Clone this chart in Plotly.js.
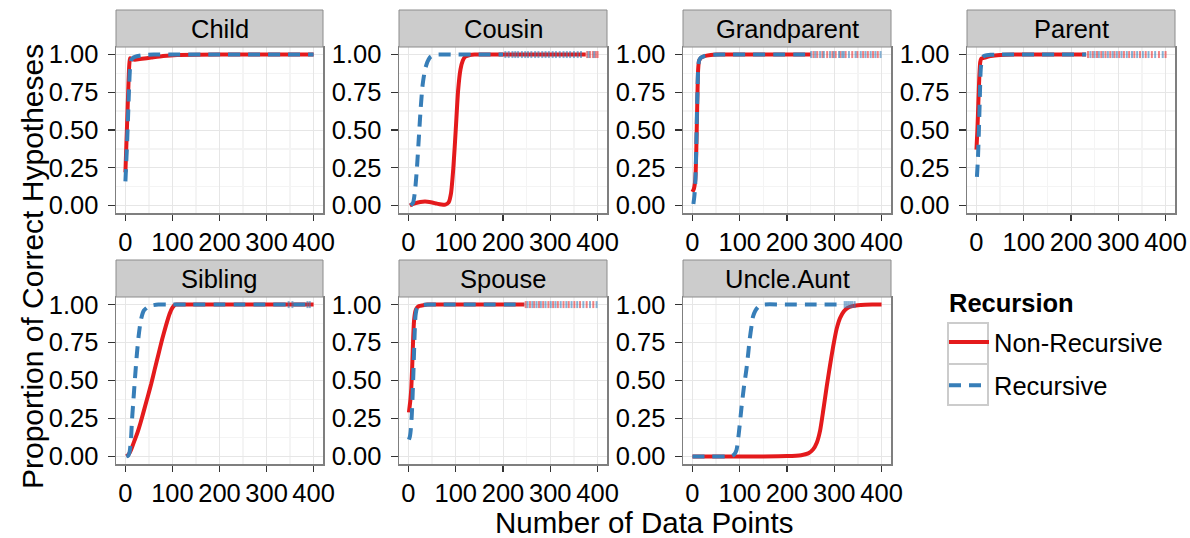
<!DOCTYPE html>
<html><head><meta charset="utf-8">
<script src="https://cdn.plot.ly/plotly-3.0.1.min.js"></script>
<style>html,body{margin:0;padding:0;background:#fff;} #chart{width:1190px;height:538px;}</style>
</head><body><div id="chart"></div>
<script>
// ---------- DATA ----------
const relations = ["Child","Cousin","Grandparent","Parent","Sibling","Spouse","Uncle.Aunt"];
const seriesNames = ["Non-Recursive","Recursive"];
const legendTitle = "Recursion";
const xTicks = [0,100,200,300,400];
const yTicks = [0,0.25,0.5,0.75,1];

const childRedX  = [0,2,4,6,8,10,14,20,35,55,80,110,200,400];
const childRedY  = [0.22,0.4,0.58,0.76,0.92,0.975,0.97,0.965,0.972,0.98,0.99,0.997,1,1];
const childBlueX = [0,2,4,6,8,10,12,15,20,35,60,100,200,400];
const childBlueY = [0.16,0.3,0.45,0.62,0.8,0.92,0.96,0.975,0.985,0.995,1,1,1,1];

const cousinRedX  = [3,10,20,30,40,50,60,70,78,85,90,95,100,105,110,115,120,130,140,200,375];
const cousinRedY  = [0,0.01,0.02,0.025,0.025,0.02,0.012,0.006,0.005,0.02,0.08,0.25,0.5,0.76,0.9,0.96,0.985,0.997,1,1,1];
const cousinBlueX = [5,10,14,18,22,26,30,35,40,45,52,60,100,200];
const cousinBlueY = [0,0.02,0.1,0.25,0.45,0.65,0.8,0.9,0.95,0.98,0.995,1,1,1];

const grandRedX  = [0,3,6,8,10,12,14,17,22,30,50,100,250];
const grandRedY  = [0.09,0.11,0.17,0.35,0.65,0.9,0.96,0.975,0.985,0.993,1,1,1];
const grandBlueX = [2,4,6,8,10,12,14,18,25,35,60,250];
const grandBlueY = [0.01,0.06,0.15,0.38,0.68,0.9,0.96,0.98,0.99,0.997,1,1];

const parentRedX  = [0,2,4,6,8,10,14,20,30,50,80,232];
const parentRedY  = [0.37,0.5,0.68,0.85,0.95,0.972,0.977,0.982,0.99,0.997,1,1];
const parentBlueX = [1,3,5,7,9,12,16,22,30,50,232];
const parentBlueY = [0.19,0.3,0.48,0.7,0.9,0.975,0.99,0.995,0.998,1,1];

const siblingRedX  = [2,6,10,14,20,26,32,40,48,55,62,70,78,86,94,100,106,115,200,400];
const siblingRedY  = [0,0.01,0.03,0.06,0.11,0.16,0.22,0.31,0.4,0.48,0.57,0.67,0.77,0.86,0.94,0.98,1,1,1,1];
const siblingBlueX = [2,6,9,12,14,17,20,24,28,33,39,48,57,70,100,400];
const siblingBlueY = [0,0.005,0.03,0.12,0.24,0.37,0.5,0.66,0.79,0.9,0.96,0.985,0.995,1,1,1];

const spouseRedX  = [1,4,6,8,10,12,15,18,22,30,40,80,245];
const spouseRedY  = [0.29,0.37,0.45,0.6,0.78,0.9,0.96,0.98,0.99,0.995,1,1,1];
const spouseBlueX = [1,3,5,7,9,11,13,15,18,22,30,50,245];
const spouseBlueY = [0.11,0.13,0.18,0.27,0.42,0.6,0.8,0.93,0.975,0.99,0.998,1,1];

const uncleRedX  = [0,50,100,150,200,230,245,255,263,270,277,284,291,298,305,312,320,328,338,350,365,380,400];
const uncleRedY  = [0,0,0,0,0.002,0.008,0.02,0.045,0.09,0.17,0.31,0.46,0.6,0.73,0.84,0.91,0.955,0.978,0.99,0.996,0.999,1,1];
const uncleBlueX = [0,40,70,83,88,93,98,104,109,114,118,121,125,128,133,139,150,200,250,319];
const uncleBlueY = [0,0,0,0.003,0.012,0.04,0.15,0.33,0.46,0.57,0.68,0.77,0.86,0.92,0.96,0.985,1,1,1,1];

// sparse isolated points at proportion 1.00 (drawn as short marks)
const childRugRed = [],  childRugBlue = [];
const cousinRugRed = [378,384,390,396,400], cousinRugBlue = [205,212,220,226,232,240,247,253,260,268,275,283,290,297,305,312,320,328,335,342,350,358,365,381,393];
const grandRugRed = [256,264,275,285,296,303,313,324,338,349,361,371,382,392], grandRugBlue = [251,260,270,278,291,299,310,317,320,331,345,356,366,377,387,398];
const parentRugRed = [236,246,255,264,273,283,292,302,312,323,334,346,358,371,386,400], parentRugBlue = [241,250,259,268,278,288,297,307,318,329,340,352,364,378,394];
const siblingRugRed = [], siblingRugBlue = [347,355,387,392];
const spouseRugRed = [248,257,266,276,285,296,306,316,328,339,351,363,377,391], spouseRugBlue = [252,262,271,280,290,301,311,322,334,345,357,370,384,398];
const uncleRugRed = [], uncleRugBlue = [322,326,330,334,338,343];

const redX  = [childRedX, cousinRedX, grandRedX, parentRedX, siblingRedX, spouseRedX, uncleRedX];
const redY  = [childRedY, cousinRedY, grandRedY, parentRedY, siblingRedY, spouseRedY, uncleRedY];
const blueX = [childBlueX, cousinBlueX, grandBlueX, parentBlueX, siblingBlueX, spouseBlueX, uncleBlueX];
const blueY = [childBlueY, cousinBlueY, grandBlueY, parentBlueY, siblingBlueY, spouseBlueY, uncleBlueY];
const rugRed  = [childRugRed, cousinRugRed, grandRugRed, parentRugRed, siblingRugRed, spouseRugRed, uncleRugRed];
const rugBlue = [childRugBlue, cousinRugBlue, grandRugBlue, parentRugBlue, siblingRugBlue, spouseRugBlue, uncleRugBlue];

// ---------- LAYOUT ----------
const W = 1190, H = 538;
const RED = '#E41A1C', BLUE = '#377EB8';
const FONT = 'Liberation Sans, Arial, Helvetica, sans-serif';
const SMALL = 25.5, BIG = 29.5;
const colPx = [[116,323],[399,607],[683,891],[967,1175]];
const rowPx = [[47,213],[297,464]];
const stripPx = [[10,47],[260,297]];
const px = v => v / W;
const py = v => (H - v) / H;

const traces = [];
const layout = {
  width: W, height: H,
  margin: {l:0, r:0, t:0, b:0},
  paper_bgcolor: '#ffffff', plot_bgcolor: '#ffffff',
  font: {family: FONT, color: '#000', size: SMALL},
  showlegend: true,
  legend: {
    x: px(944), y: py(319), xanchor: 'left', yanchor: 'top',
    font: {size: SMALL, family: FONT, color: '#000'},
    bgcolor: 'rgba(0,0,0,0)', borderwidth: 0,
    traceorder: 'grouped', tracegroupgap: 7, itemwidth: 40
  },
  shapes: [], annotations: []
};

relations.forEach((rel, i) => {
  const r = i < 4 ? 0 : 1, c = i % 4;
  const sfx = i === 0 ? '' : String(i + 1);
  const xa = 'x' + sfx, ya = 'y' + sfx;
  layout['xaxis' + sfx] = {
    domain: [px(colPx[c][0]), px(colPx[c][1])], anchor: ya,
    range: [-20, 420], tickmode: 'array', tickvals: xTicks, ticktext: xTicks.map(String),
    ticks: 'outside', ticklen: 6, tickwidth: 1.5, tickcolor: '#333', ticklabelstandoff: 0,
    tickfont: {size: SMALL, family: FONT, color: '#000'},
    showgrid: true, gridcolor: '#E6E6E6', gridwidth: 1,
    minor: {tickvals: [50,150,250,350], showgrid: true, gridcolor: '#F4F4F4', gridwidth: 1.5, ticks: ''},
    showline: true, mirror: true, linecolor: '#7F7F7F', linewidth: 1.5, zeroline: false, fixedrange: true
  };
  layout['yaxis' + sfx] = {
    domain: [py(rowPx[r][1]), py(rowPx[r][0])], anchor: xa,
    range: [-0.05, 1.05], tickmode: 'array', tickvals: yTicks, ticktext: yTicks.map(v => v.toFixed(2)),
    ticks: 'outside', ticklen: 7, tickwidth: 1.5, tickcolor: '#333', ticklabelstandoff: 4,
    tickfont: {size: SMALL, family: FONT, color: '#000'},
    showgrid: true, gridcolor: '#E6E6E6', gridwidth: 1,
    minor: {tickvals: [0.125,0.375,0.625,0.875], showgrid: true, gridcolor: '#F4F4F4', gridwidth: 1.5, ticks: ''},
    showline: true, mirror: true, linecolor: '#7F7F7F', linewidth: 1.5, zeroline: false, fixedrange: true
  };
  // strip
  layout.shapes.push({type: 'rect', xref: 'paper', yref: 'paper',
    x0: px(colPx[c][0]), x1: px(colPx[c][1]), y0: py(stripPx[r][1]), y1: py(stripPx[r][0]),
    fillcolor: '#CCCCCC', line: {color: '#8C8C8C', width: 1}, layer: 'above'});
  layout.annotations.push({xref: 'paper', yref: 'paper', showarrow: false,
    x: px((colPx[c][0] + colPx[c][1]) / 2), y: py((stripPx[r][0] + stripPx[r][1]) / 2),
    xanchor: 'center', yanchor: 'middle', text: rel, font: {size: SMALL, family: FONT, color: '#000'}});

  traces.push({type: 'scatter', mode: 'lines', x: redX[i], y: redY[i], xaxis: xa, yaxis: ya,
    name: seriesNames[0], legendgroup: 'nr', showlegend: i === 0,
    line: {color: RED, width: 4, shape: 'spline', smoothing: 0.6}, hoverinfo: 'skip'});
  traces.push({type: 'scatter', mode: 'lines', x: blueX[i], y: blueY[i], xaxis: xa, yaxis: ya,
    name: seriesNames[1], legendgroup: 'r', showlegend: i === 0,
    line: {color: BLUE, width: 4, dash: '12px,8px', shape: 'spline', smoothing: 0.6}, hoverinfo: 'skip'});
  if (rugRed[i].length) traces.push({type: 'scatter', mode: 'markers', x: rugRed[i], y: rugRed[i].map(() => 1),
    xaxis: xa, yaxis: ya, showlegend: false, hoverinfo: 'skip',
    marker: {symbol: 'line-ns', size: 5, line: {color: 'rgba(228,26,28,0.55)', width: 2}}});
  if (rugBlue[i].length) traces.push({type: 'scatter', mode: 'markers', x: rugBlue[i], y: rugBlue[i].map(() => 1),
    xaxis: xa, yaxis: ya, showlegend: false, hoverinfo: 'skip',
    marker: {symbol: 'line-ns', size: 5, line: {color: 'rgba(55,126,184,0.6)', width: 2}}});
});

// axis titles
layout.annotations.push({xref: 'paper', yref: 'paper', showarrow: false, x: px(644), y: py(522),
  xanchor: 'center', yanchor: 'middle', text: 'Number of Data Points', font: {size: BIG, family: FONT, color: '#000'}});
layout.annotations.push({xref: 'paper', yref: 'paper', showarrow: false, x: px(32), y: py(267),
  xanchor: 'center', yanchor: 'middle', textangle: -90, text: 'Proportion of Correct Hypotheses',
  font: {size: 30, family: FONT, color: '#000'}});
// legend title
layout.annotations.push({xref: 'paper', yref: 'paper', showarrow: false, x: px(947), y: py(303),
  xanchor: 'left', yanchor: 'middle', text: '<b>' + legendTitle + '</b>', font: {size: SMALL, family: FONT, color: '#000'}});

// legend key boxes
[[323,364],[364,405]].forEach(b => layout.shapes.push({type: 'rect', xref: 'paper', yref: 'paper',
  x0: px(948), x1: px(988), y0: py(b[1]), y1: py(b[0]), fillcolor: 'rgba(0,0,0,0)',
  line: {color: '#CCCCCC', width: 2}, layer: 'below'}));

Plotly.newPlot('chart', traces, layout, {displayModeBar: false, staticPlot: true});
</script></body></html>
